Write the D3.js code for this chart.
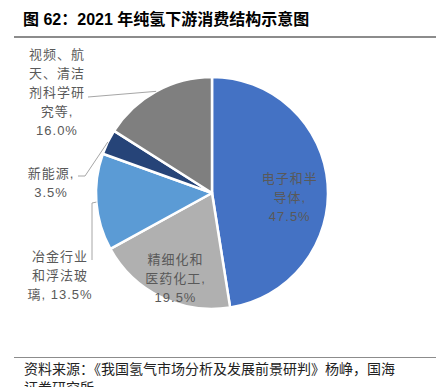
<!DOCTYPE html>
<meta charset="utf-8">
<script src="https://d3js.org/d3.v7.min.js"></script>
<style>
  body { margin: 0; background: #fff; }
</style>
<div id="chart"></div>
<script>
// data
var categories = ["电子和半导体", "精细化和医药化工", "冶金行业和浮法玻璃", "新能源", "视频、航天、清洁剂科学研究等"];
var shares = [47.5, 19.5, 13.5, 3.5, 16.0];
var labelLines = [
  ["电子和半", "导体,", "47.5%"],
  ["精细化和", "医药化工,", "19.5%"],
  ["冶金行业", "和浮法玻", "璃, 13.5%"],
  ["新能源,", "3.5%"],
  ["视频、航", "天、清洁", "剂科学研", "究等,", "16.0%"]
];
var colors = ["#4472C4", "#B0B0B0", "#5B9BD5", "#264478", "#7F7F7F"];

var width = 436, height = 387;
var cx = 212, cy = 193, radius = 116;

var svg = d3.select("#chart")
  .append("svg")
    .attr("width", width)
    .attr("height", height);

// title
svg.append("text")
  .attr("x", 23)
  .attr("y", 25)
  .style("font-family", "'Liberation Sans', 'Noto Sans CJK SC', sans-serif")
  .style("font-weight", "bold")
  .style("font-size", "16px")
  .attr("fill", "#000")
  .text("图 62：2021 年纯氢下游消费结构示意图");

svg.append("line")
  .attr("x1", 14).attr("x2", width)
  .attr("y1", 37).attr("y2", 37)
  .attr("stroke", "#8c8c8c")
  .attr("stroke-width", 2);

// pie
var g = svg.append("g")
  .attr("transform", "translate(" + cx + "," + cy + ")");

var pie = d3.pie().sort(null).value(function(d) { return d; });
var arcs = pie(shares);

var arc = d3.arc().innerRadius(0).outerRadius(radius);

g.selectAll("path")
  .data(arcs)
  .enter()
  .append("path")
    .attr("d", arc)
    .attr("fill", function(d, i) { return colors[i]; })
    .attr("stroke", "#fff")
    .attr("stroke-width", 2.5)
    .attr("stroke-linejoin", "round");

// label placement: inside labels sit on a centroid ring, outside ones on a fixed spot
var labelLayout = [
  { inside: true, r: 78 },
  { inside: true, r: 83 },
  { inside: false, x: -152, y: 82, elbow: [[-120, 10], [-120, 67]] },
  { inside: false, x: -161, y: -10, elbow: [[-127, -17], [-134, -17]] },
  { inside: false, x: -155, y: -101, elbow: [[-124, -96]] }
];

var lineH = 19;
var fontStack = "'Liberation Sans', 'Noto Sans CJK SC', sans-serif";

arcs.forEach(function(d, i) {
  var lay = labelLayout[i];
  var lines = labelLines[i];
  var mid = (d.startAngle + d.endAngle) / 2;
  var px, py;
  if (lay.inside) {
    var c = d3.arc().innerRadius(lay.r).outerRadius(lay.r).centroid(d);
    px = c[0]; py = c[1] + 11;
  } else {
    px = lay.x; py = lay.y;
    // leader line from slice edge
    var pts = [[Math.sin(mid) * radius, -Math.cos(mid) * radius]].concat(lay.elbow);
    g.append("path")
      .attr("d", d3.line()(pts))
      .attr("fill", "none")
      .attr("stroke", "#A6A6A6")
      .attr("stroke-width", 1);
  }
  var t = g.append("text")
    .attr("text-anchor", "middle")
    .style("font-family", fontStack)
    .style("font-size", "13px")
    .style("letter-spacing", "1px")
    .attr("fill", "#595959");
  var y0 = py - (lines.length - 1) * lineH / 2;
  lines.forEach(function(s, k) {
    t.append("tspan")
      .attr("x", px)
      .attr("y", y0 + k * lineH)
      .attr("dy", "0.35em")
      .text(s);
  });
});

// source note
svg.append("line")
  .attr("x1", 14).attr("x2", width)
  .attr("y1", 357.5).attr("y2", 357.5)
  .attr("stroke", "#8c8c8c")
  .attr("stroke-width", 1);

var src = svg.append("text")
  .style("font-family", "'Noto Sans CJK SC', sans-serif")
  .style("font-size", "14px")
  .attr("fill", "#222");
src.append("tspan").attr("x", 24).attr("y", 374).text("资料来源：《我国氢气市场分析及发展前景研判》杨峥，国海");
src.append("tspan").attr("x", 24).attr("y", 393).text("证券研究所");
</script>
